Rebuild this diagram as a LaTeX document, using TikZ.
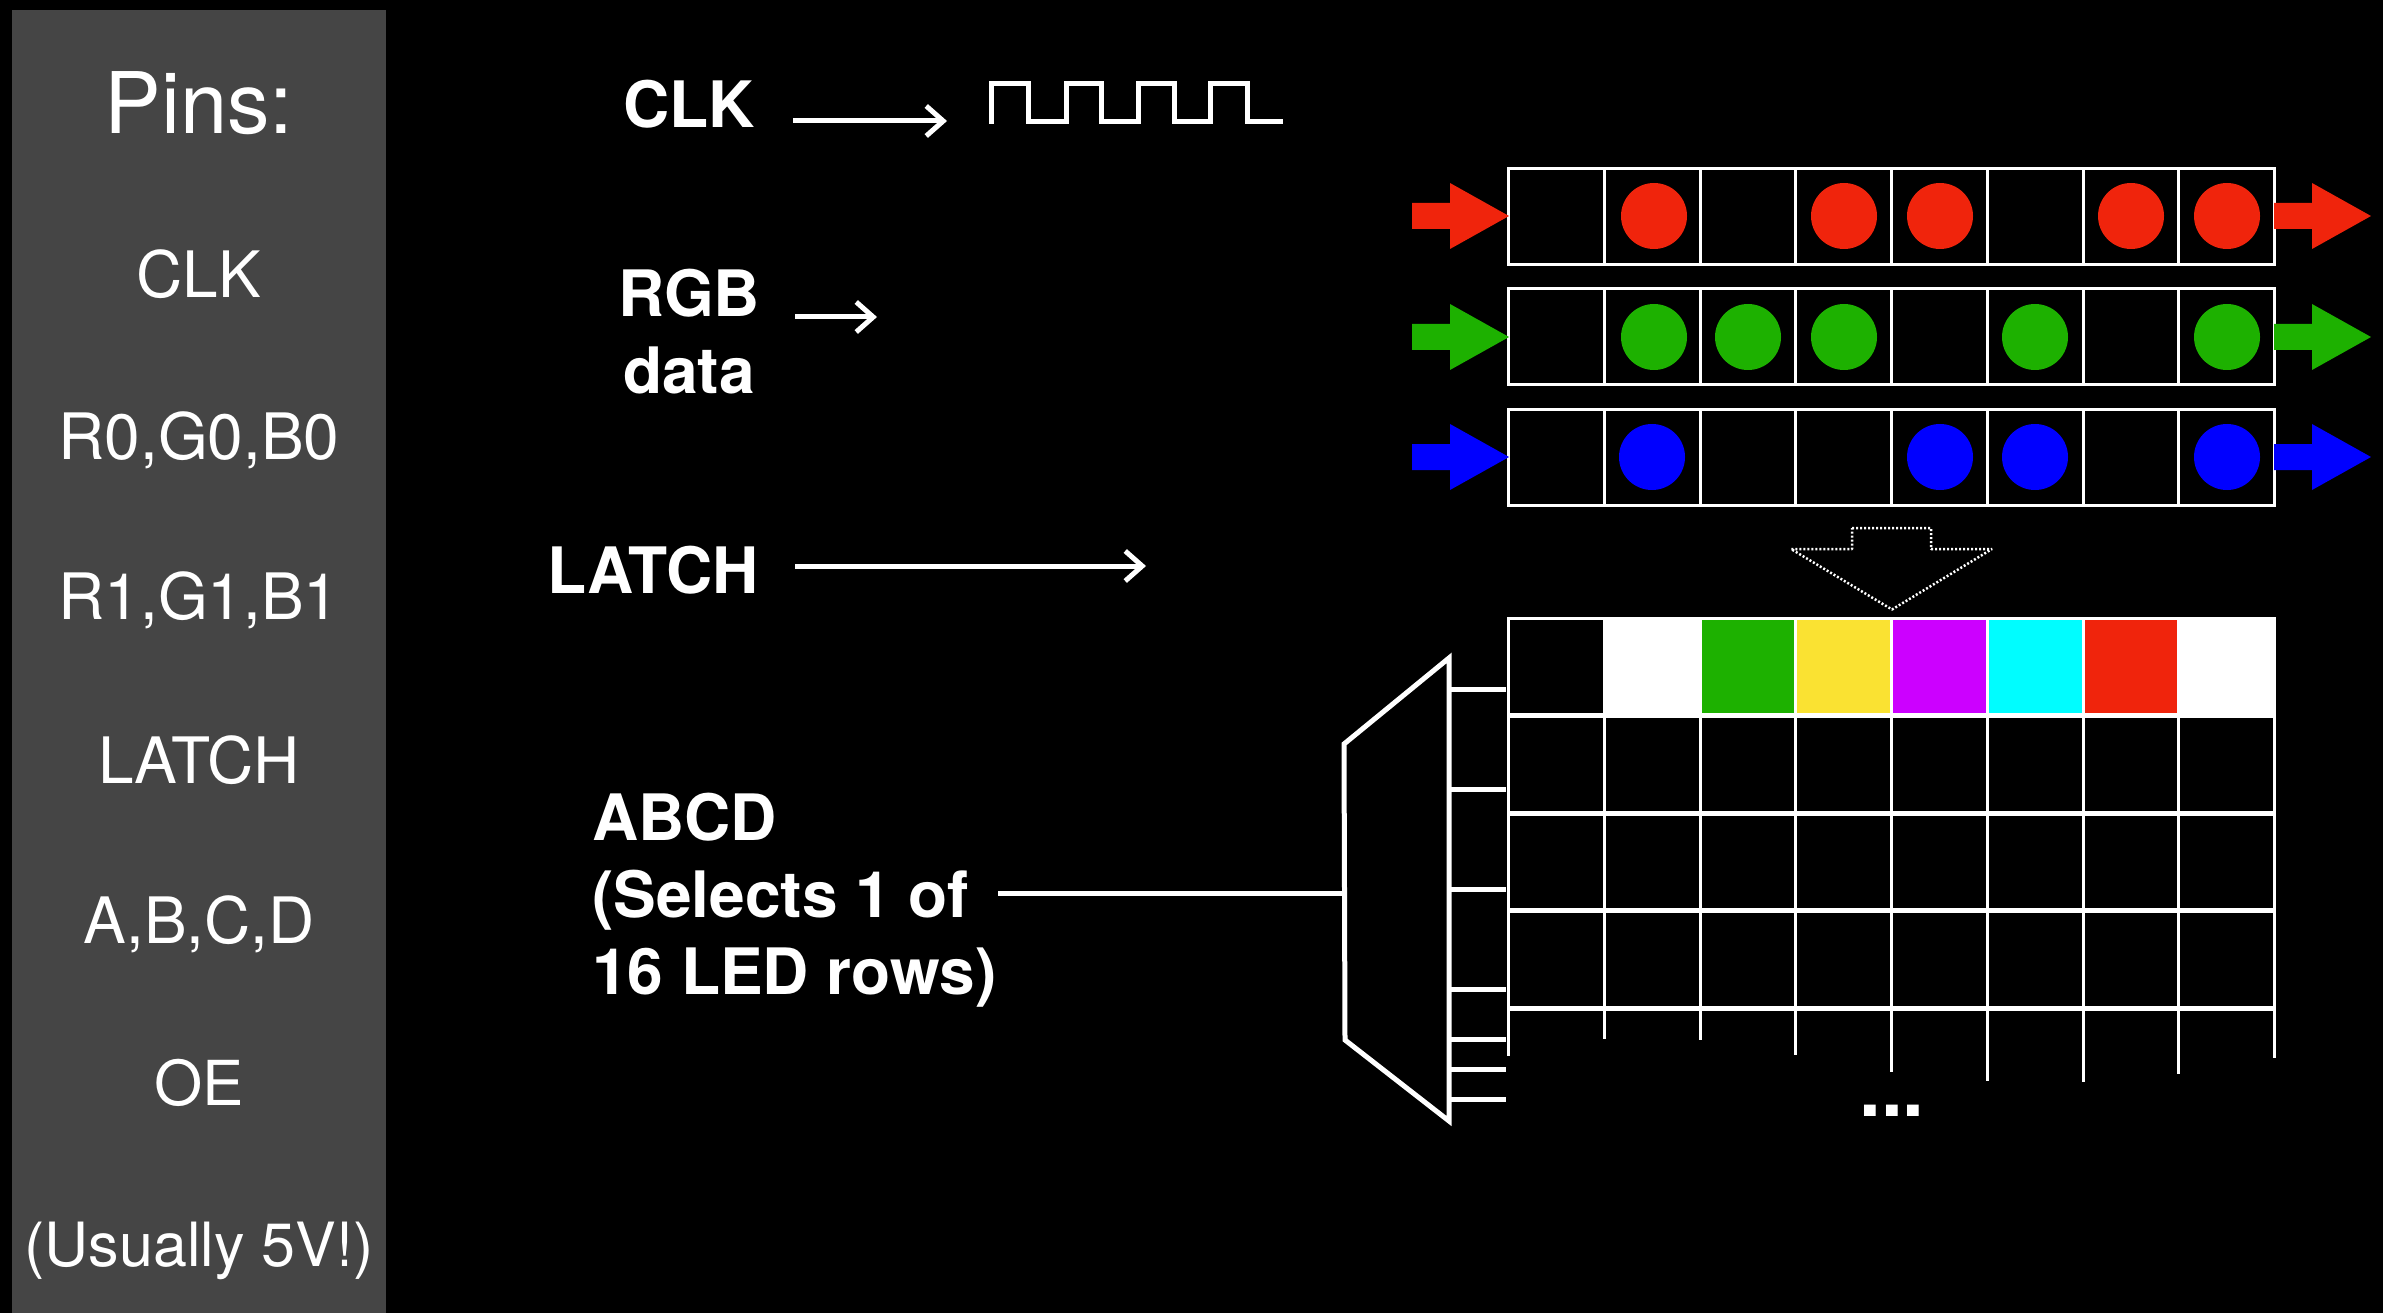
\documentclass[tikz,border=0pt]{standalone}
\usepackage{fontspec}
\setmainfont{TeX Gyre Heros}
\usetikzlibrary{arrows.meta}
\definecolor{panelgray}{HTML}{454545}
\definecolor{ledred}{HTML}{F0240C}
\definecolor{ledgreen}{HTML}{1DB100}
\definecolor{ledblue}{HTML}{0000FF}
\definecolor{ledyellow}{HTML}{FAE232}
\definecolor{ledpurple}{HTML}{CC00FF}
\definecolor{ledcyan}{HTML}{00FDFF}
\tikzset{
  pinlabel/.style={text=white,font=\fontsize{64}{70}\selectfont,inner sep=0pt,anchor=base},
  boldlabel/.style={text=white,font=\fontsize{64}{77}\selectfont\bfseries,inner sep=0pt,align=left},
  wire/.style={draw=white,line width=5pt},
  thin wire/.style={draw=white,line width=3pt},
  sigarrow/.style={draw=white,line width=5pt,-{Straight Barb[length=17pt,width=30pt,line width=5pt]}},
  regcell/.style={draw=white,line width=3pt,fill=black,minimum width=95.75pt,minimum height=96pt,inner sep=0pt,outer sep=0pt},
  led/.style={circle,minimum size=66pt,inner sep=0pt,outer sep=0pt},
}
\newcommand{\fatarrow}[3]{% colour, tail x, y
  \fill[#1] (#2,#3-13) -- (#2+38,#3-13) -- (#2+38,#3-33) -- (#2+97,#3) -- (#2+38,#3+33) -- (#2+38,#3+13) -- (#2,#3+13) -- cycle;}
\begin{document}
\begin{tikzpicture}[x=1pt,y=-1pt]
\useasboundingbox (0,0) rectangle (2383,1313);
\fill[black] (0,0) rectangle (2383,1313);
\fill[panelgray] (12,10) rectangle (386,1313);

% pin panel
\node[pinlabel,font=\fontsize{85}{90}\selectfont] (pintitle) at (199,133.5) {Pins:};
\node[pinlabel] (pinclk) at (199,297.6) {CLK};
\node[pinlabel] (pinrgbz) at (199,459.6) {R0,G0,B0};
\node[pinlabel] (pinrgbo) at (199,619) {R1,G1,B1};
\node[pinlabel] (pinlatch) at (199,783) {LATCH};
\node[pinlabel] (pinabcd) at (199,943) {A,B,C,D};
\node[pinlabel,font=\fontsize{62}{70}\selectfont] (pinoe) at (199.5,1105.6) {OE};
\node[pinlabel,font=\fontsize{61}{70}\selectfont] (pinvolt) at (199,1266) {(Usually 5V!)};

% signal labels
\node[boldlabel,anchor=base] (clklabel) at (689,127.5) {CLK};
\node[boldlabel,anchor=center,align=center] (rgblabel) at (689,332) {RGB\\data};
\node[boldlabel,anchor=base east] (latchlabel) at (759,593) {LATCH};
\node[boldlabel,anchor=west] (abcdlabel) at (592,900) {ABCD\\(Selects 1 of\\16 LED rows)};

% signal arrows
\coordinate (clkend) at (947,121);
\coordinate (rgbend) at (877,317);
\coordinate (latchend) at (1146,566);
\draw[sigarrow] (793,121) -- (clkend);
\draw[sigarrow] (795,317) -- (rgbend);
\draw[sigarrow] (795,566) -- (latchend);

% clock waveform
\draw[wire,line join=miter] (991,124) -- (991,84) -- (1028,84) -- (1028,122) -- (1066,122) -- (1066,84) -- (1101,84) -- (1101,122) -- (1138,122) -- (1138,84) -- (1174,84) -- (1174,122) -- (1210,122) -- (1210,84) -- (1247,84) -- (1247,122) -- (1283,122);

% shift registers
\foreach \row/\y in {r/216.5,g/337,b/457.5}{
  \foreach \c in {0,...,7}{
    \node[regcell] (cell\row\c) at ({1556.5+95.75*\c},\y) {};
  }
}
\foreach \row/\col/\y/\list in {r/ledred/216/{1654,1844,1940,2131,2227},g/ledgreen/337/{1654,1748,1844,2035,2227},b/ledblue/457/{1652,1940,2035,2227}}{
  \foreach \x in \list {
    \node[led,fill=\col] (led\row\x) at (\x,\y) {};
  }
}
\fatarrow{ledred}{1412}{216}\fatarrow{ledred}{2274}{216}
\fatarrow{ledgreen}{1412}{337}\fatarrow{ledgreen}{2274}{337}
\fatarrow{ledblue}{1412}{457}\fatarrow{ledblue}{2274}{457}

% latch transfer arrow
\draw[white,line width=2.5pt,line join=bevel,dash pattern=on 2pt off 2pt] (1852,528) -- (1931,528) -- (1931,549) -- (1992,549) -- (1892,609.5) -- (1791,549) -- (1852,549) -- cycle;

% LED matrix top row
\foreach \c/\col in {0/black,1/white,2/ledgreen,3/ledyellow,4/ledpurple,5/ledcyan,6/ledred,7/white}{
  \fill[\col] ({1508+95.75*\c},618) rectangle ({1508+95.75*(\c+1)},714);
}
\fill[white] (1508,616.5) rectangle (2276,619.5);
\fill[white] (2178,616.5) rectangle (2276,716);
\fill[white] (1604,616.5) rectangle (1700,716);
\foreach \c in {0,...,8}{
  \draw[thin wire] ({1508.5+95.75*\c},617) -- ({1508.5+95.75*\c},716);
}
% matrix rows
\foreach \y in {715,813,910,1008}{
  \draw[draw=white,line width=5pt] (1507,\y) -- (2276,\y);
}
\foreach \c/\e in {0/1056,1/1039,2/1039.5,3/1054.5,4/1072,5/1081,6/1081.5,7/1074,8/1058}{
  \draw[thin wire] ({1508.5+95.75*\c},715) -- ({1508.5+95.75*\c},\e);
}
\node[text=white,font=\fontsize{78}{80}\selectfont\bfseries,inner sep=0pt,anchor=base] (dots) at (1892,1116) {...};

% row decoder
\coordinate (muxta) at (1449,658);
\coordinate (muxtb) at (1344,744);
\coordinate (muxtc) at (1345,1040);
\coordinate (muxtd) at (1449,1121);
\draw[wire,line join=miter] (muxta) -- (muxtb) -- (muxtc) -- (muxtd) -- cycle;
\coordinate (abcdend) at (998,893);
\draw[wire] (abcdend) -- (1344,893);
\foreach \y in {689.5,789.5,889.5,989,1039,1069,1099}{
  \draw[draw=white,line width=5pt] (1449,\y) -- (1506,\y);
}
\end{tikzpicture}
\end{document}
